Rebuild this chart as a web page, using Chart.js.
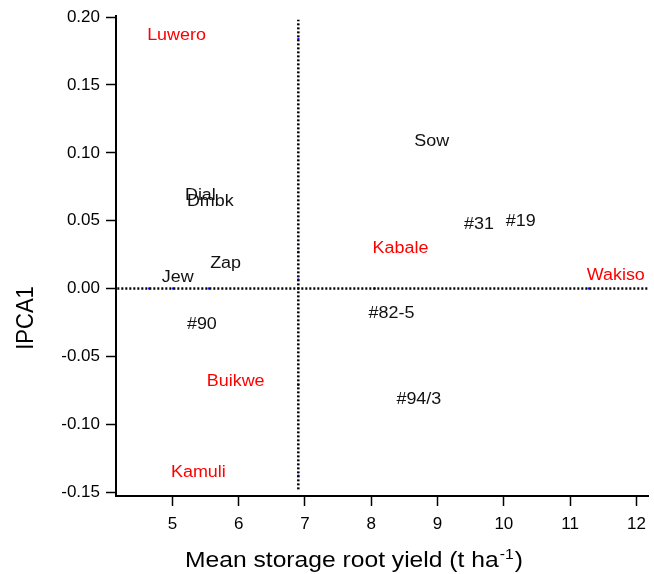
<!DOCTYPE html>
<html>
<head>
<meta charset="utf-8">
<script src="https://cdn.jsdelivr.net/npm/chart.js@4.4.1/dist/chart.umd.min.js"></script>
<style>
  html, body { margin: 0; padding: 0; background: #fff; }
</style>
</head>
<body>
<canvas id="ammiChart" width="654" height="574"></canvas>
<script>
// genotypes: mean yield (t/ha) vs IPCA1 score
var genoNames = ["Sow", "Dial", "Dmbk", "Zap", "Jew", "#31", "#19", "#82-5", "#94/3", "#90"];
var genoYield = [8.68, 5.22, 5.25, 5.60, 4.87, 9.43, 10.06, 7.99, 8.41, 5.25];
var genoIpca  = [0.1055, 0.066, 0.0615, 0.0155, 0.0052, 0.0447, 0.0469, -0.0212, -0.0841, -0.0293];

// environments
var envNames = ["Luwero", "Kabale", "Wakiso", "Buikwe", "Kamuli"];
var envYield = [4.65, 8.05, 11.28, 5.55, 5.01];
var envIpca  = [0.184, 0.027, 0.0067, -0.071, -0.138];

// reference lines
var grandMean = 6.90;
var meanLineY = [-0.148, 0.198];
var zeroLineX = [4.17, 12.18];

var xTicks = [5, 6, 7, 8, 9, 10, 11, 12];
var yTicks = [-0.15, -0.10, -0.05, 0.00, 0.05, 0.10, 0.15, 0.20];

var FONT = '"Liberation Sans", Arial, Helvetica, sans-serif';
var STRETCH = 1.12; // reference text looks widened

function pts(xs, ys) {
    return xs.map(function (x, i) { return { x: x, y: ys[i] }; });
}

// small blue marks where environment scores meet the reference lines
var projPts = envYield.map(function (x) { return { x: x, y: 0 }; })
    .concat(envIpca.map(function (y) { return { x: grandMean, y: y }; }));

var pointLabels = {
    id: 'pointLabels',
    afterDatasetsDraw: function (chart) {
        var ctx = chart.ctx;
        chart.data.datasets.forEach(function (ds, i) {
            if (!ds.labels) return;
            var meta = chart.getDatasetMeta(i);
            ctx.save();
            ctx.font = '16px ' + FONT;
            ctx.fillStyle = ds.labelColor;
            ctx.textAlign = 'left';
            ctx.textBaseline = 'alphabetic';
            meta.data.forEach(function (pt, j) {
                ctx.save();
                ctx.translate(pt.x - 2, pt.y + 1);
                ctx.scale(STRETCH, 1);
                ctx.fillText(ds.labels[j], 0, 0);
                ctx.restore();
            });
            ctx.restore();
        });
    }
};

var axisTitles = {
    id: 'axisTitles',
    afterDraw: function (chart) {
        var ctx = chart.ctx;
        ctx.save();
        ctx.fillStyle = '#000';
        // y title
        ctx.save();
        ctx.translate(26, 318);
        ctx.scale(STRETCH, 1);
        ctx.rotate(-Math.PI / 2);
        ctx.font = '22px ' + FONT;
        ctx.textAlign = 'center';
        ctx.textBaseline = 'middle';
        ctx.fillText('IPCA1', 0, 0);
        ctx.restore();
        // x title with superscript
        ctx.save();
        ctx.translate(185, 567);
        ctx.scale(STRETCH, 1);
        ctx.textAlign = 'left';
        ctx.textBaseline = 'alphabetic';
        ctx.font = '22px ' + FONT;
        var main = 'Mean storage root yield (t ha';
        ctx.fillText(main, 0, 0);
        var w = ctx.measureText(main).width;
        ctx.font = '14px ' + FONT;
        ctx.fillText('-1', w + 1, -8);
        var w2 = ctx.measureText('-1').width;
        ctx.font = '22px ' + FONT;
        ctx.fillText(')', w + w2 + 2, 0);
        ctx.restore();
        ctx.restore();
    }
};

var dotted = {
    showLine: true,
    borderColor: "#000",
    borderWidth: 2.5,
    borderDash: [2, 2],
    pointRadius: 0
};

var ammiChart = new Chart("ammiChart", {
    type: "scatter",
    data: {
        datasets: [
            Object.assign({ data: pts(zeroLineX, [0, 0]) }, dotted),
            Object.assign({ data: pts([grandMean, grandMean], meanLineY) }, dotted),
            {
                data: projPts,
                pointRadius: 1.2,
                borderWidth: 0,
                backgroundColor: "#2020ff"
            }, {
                data: pts(genoYield, genoIpca),
                labels: genoNames,
                labelColor: "#111",
                pointRadius: 0
            }, {
                data: pts(envYield, envIpca),
                labels: envNames,
                labelColor: "#ff0000",
                pointRadius: 0
            }
        ]
    },
    options: {
        responsive: false,
        devicePixelRatio: 1,
        animation: false,
        layout: { padding: { top: 13, right: 4, left: 0, bottom: 0 } },
        plugins: {
            legend: { display: false },
            tooltip: { enabled: false }
        },
        scales: {
            x: {
                type: "linear",
                min: 4.15,
                max: 12.18,
                afterBuildTicks: function (scale) {
                    scale.ticks = xTicks.map(function (v) { return { value: v }; });
                },
                afterFit: function (scale) { scale.height = 78; },
                ticks: {
                    autoSkip: false,
                    maxRotation: 0,
                    padding: 8,
                    color: "#000",
                    font: { family: FONT, size: 17 },
                    callback: function (v) { return String(v); }
                },
                grid: {
                    drawOnChartArea: false,
                    drawTicks: true,
                    tickLength: 10,
                    tickColor: "#000",
                    tickWidth: 1.5
                },
                border: { display: true, color: "#000", width: 2 }
            },
            y: {
                type: "linear",
                min: -0.1529,
                max: 0.2007,
                afterBuildTicks: function (scale) {
                    scale.ticks = yTicks.map(function (v) { return { value: v }; });
                },
                afterFit: function (scale) { scale.width = 116; },
                ticks: {
                    autoSkip: false,
                    padding: 6,
                    color: "#000",
                    font: { family: FONT, size: 17 },
                    callback: function (v) { return Number(v).toFixed(2); }
                },
                grid: {
                    drawOnChartArea: false,
                    drawTicks: true,
                    tickLength: 10,
                    tickColor: "#000",
                    tickWidth: 1.5
                },
                border: { display: true, color: "#000", width: 2 }
            }
        }
    },
    plugins: [pointLabels, axisTitles]
});
</script>
</body>
</html>
